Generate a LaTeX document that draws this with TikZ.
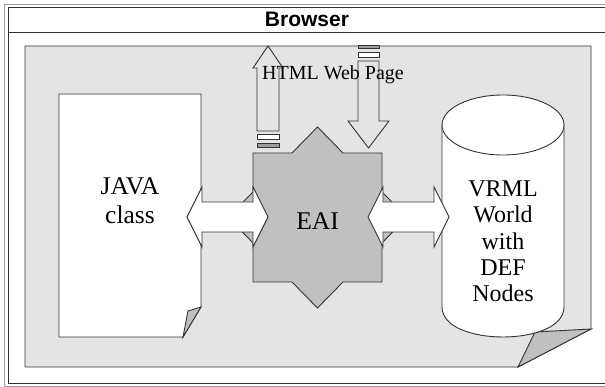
\documentclass[tikz,border=0pt]{standalone}
\usepackage{fontspec}
\setmainfont{Liberation Serif}
\newfontfamily\titrefont{Liberation Sans}
\usepackage{xcolor}
\usepackage{tikz}
\definecolor{grisfond}{HTML}{E4E4E4}
\definecolor{grisforme}{HTML}{C0C0C0}
\definecolor{grisbande}{HTML}{9C9C9C}
\definecolor{trait}{HTML}{333333}

% fleche bloc double : x gauche, x droite, y milieu
\newcommand{\blocdouble}[3]{%
  \filldraw[fill=white, draw=trait] (#1,#3) -- (#1+15,#3-30) -- (#1+15,#3-15)
    -- (#2-15,#3-15) -- (#2-15,#3-30) -- (#2,#3) -- (#2-15,#3+30)
    -- (#2-15,#3+15) -- (#1+15,#3+15) -- (#1+15,#3+30) -- cycle;}

\begin{document}
\begin{tikzpicture}[
  x=1pt, y=-1pt,
  line width=0.9pt, draw=trait,
  texte/.style={font=\fontsize{25.5}{29}\selectfont, align=center, inner sep=0pt},
  bande/.style={draw=trait, line width=0.8pt}
]
\useasboundingbox (0,0) rectangle (605,387);

% fenetre du navigateur
\draw[grisbande, line width=1.2pt] (605,4.5) -- (4.5,4.5) -- (4.5,386.5) -- (605,386.5);
\draw (605,7.5) -- (8.5,7.5) -- (8.5,383.5) -- (605,383.5);
\draw (8.5,32) -- (605,32);
\node[font=\titrefont\bfseries\fontsize{21}{24}\selectfont, anchor=base, inner sep=0pt]
  (browser) at (307,27) {Browser};

% page HTML
\filldraw[fill=grisfond] (25,46) -- (591,46) -- (591,329) -- (518,367) -- (25,367) -- cycle;
\filldraw[fill=grisforme] (591,329) -- (535,332) -- (518,367) -- cycle;

% classe JAVA
\filldraw[fill=white] (59,94) -- (201,94) -- (201,307) -- (183,337) -- (59,337) -- cycle;
\filldraw[fill=grisforme] (201,307) -- (188,311) -- (183,337) -- cycle;

% monde VRML
\filldraw[fill=white] (442,125) -- (442,307) .. controls (442,347) and (564,347) .. (564,307)
  -- (564,125) -- cycle;
\draw[fill=white] (503,125) ellipse [x radius=61, y radius=30];

% EAI
\filldraw[fill=grisforme] (253,153) -- (292,153) -- (317.5,127) -- (343,153) -- (382,153)
  -- (382,192) -- (407,217) -- (382,243) -- (382,282) -- (343,282) -- (317.5,308)
  -- (292,282) -- (253,282) -- (253,243) -- (228,217) -- (253,192) -- cycle;

% fleches rayees
\filldraw[fill=grisfond] (268,46) -- (283,68) -- (279,68) -- (279,131) -- (257,131)
  -- (257,68) -- (253,68) -- cycle;
\filldraw[bande, fill=white] (257,134.5) rectangle (279,139);
\filldraw[bande, fill=grisbande] (257,143.5) rectangle (279,147);
\filldraw[bande, fill=grisbande] (358,45.5) rectangle (379,48.5);
\filldraw[bande, fill=white] (358,52.5) rectangle (379,57);
\filldraw[fill=grisfond] (358,61) -- (379,61) -- (379,121) -- (389,121) -- (368.5,148)
  -- (348,121) -- (358,121) -- cycle;

% fleches doubles
\blocdouble{187}{268}{217}
\blocdouble{368}{449}{217}

% textes
\node[font=\fontsize{20}{24}\selectfont, anchor=base, inner sep=0pt] (pagetitre) at (333,80) {HTML Web Page};
\node[texte] (java) at (130,201) {JAVA\\class};
\node[texte, anchor=base] (eai) at (317.5,230) {EAI};
\node[texte, font=\fontsize{24}{26.3}\selectfont] (vrml) at (503,241.5) {VRML\\World\\with\\DEF\\Nodes};
\end{tikzpicture}
\end{document}
